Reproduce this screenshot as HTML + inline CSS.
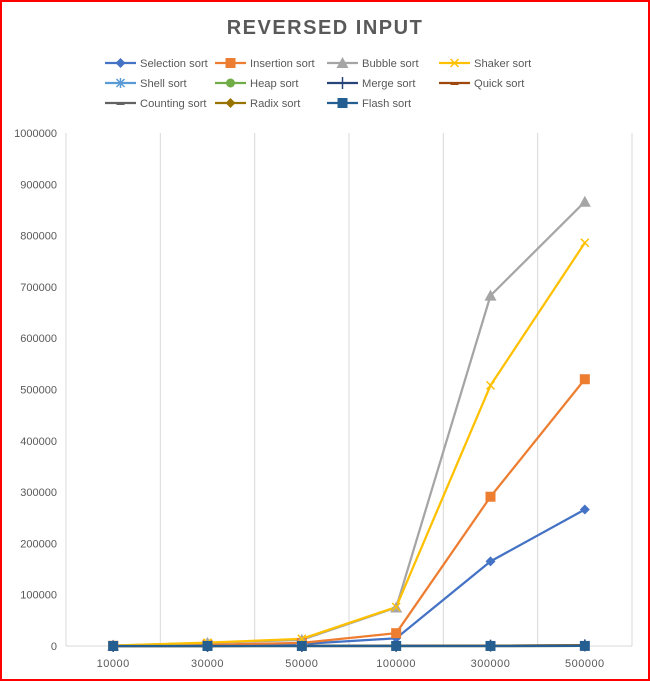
<!DOCTYPE html>
<html><head><meta charset="utf-8"><style>
body{margin:0;background:#fff;}
#wrap{position:relative;width:650px;height:681px;box-sizing:border-box;border:2px solid #f00;background:#fff;font-family:"Liberation Sans",sans-serif;}
svg text{font-family:"Liberation Sans",sans-serif;}
</style></head><body>
<div id="wrap">
<svg id="chart" width="646" height="677" style="position:absolute;left:0;top:0"></svg>
</div>
<script>
const categories=["10000","30000","50000","100000","300000","500000"];
const yTicks=[0,100000,200000,300000,400000,500000,600000,700000,800000,900000,1000000];
const selection=[300,1500,4000,15000,165000,266000];
const insertion=[400,2500,6000,25000,291000,520000];
const bubble=[800,6000,12000,75000,683000,866000];
const shaker=[800,6500,14000,76000,508000,786000];
const shell=[50,100,150,300,700,1200];
const heap=[50,100,150,300,700,1200];
const merge=[50,100,150,300,700,1200];
const quick=[50,100,150,300,700,1200];
const counting=[10,20,30,50,100,150];
const radix=[10,20,30,50,100,150];
const flash=[10,20,30,50,100,150];

const NS="http://www.w3.org/2000/svg";
const svg=document.getElementById('chart');
const OX=-2,OY=-2;
const plotLeft=66,plotRight=632,plotTop=133,plotBottom=646;
const xs=i=>plotLeft+(plotRight-plotLeft)/categories.length*(i+0.5)+OX;
const ys=v=>plotBottom-(v/1000000)*(plotBottom-plotTop)+OY;
function el(t,a){const e=document.createElementNS(NS,t);for(const k in a)e.setAttribute(k,a[k]);svg.appendChild(e);return e;}

const title=el('text',{x:323,y:32,'text-anchor':'middle','font-size':20,'font-weight':'bold',fill:'#595959','letter-spacing':'1.5'});
title.textContent='REVERSED INPUT';



for(let i=0;i<=categories.length;i++){
 const x=plotLeft+(plotRight-plotLeft)/categories.length*i+OX;
 const g=el('line',{x1:x,x2:x,y1:plotTop+OY,y2:plotBottom+OY,stroke:'#d9d9d9','stroke-width':1});
 
 
}
const ax=el('line',{x1:plotLeft+OX,x2:plotRight+OX,y1:plotBottom+OY,y2:plotBottom+OY,stroke:'#d9d9d9','stroke-width':1});



yTicks.forEach(v=>{
 const t=el('text',{x:57+OX,y:ys(v)+4,'text-anchor':'end','font-size':11,fill:'#595959'});
 t.textContent=v;
 
 
});
categories.forEach((c,i)=>{
 const t=el('text',{x:xs(i),y:667+OY,'text-anchor':'middle','font-size':11,fill:'#595959','letter-spacing':'0.5'});
 t.textContent=c;
 
 
});

function marker(type,x,y,color){
 let m;
 if(type==='diamond')m=el('path',{d:`M${x} ${y-5}L${x+5} ${y}L${x} ${y+5}L${x-5} ${y}Z`,fill:color});
 else if(type==='square')m=el('rect',{x:x-5,y:y-5,width:10,height:10,fill:color});
 else if(type==='triangle')m=el('path',{d:`M${x} ${y-6}L${x+6} ${y+5}L${x-6} ${y+5}Z`,fill:color});
 else if(type==='x')m=el('path',{d:`M${x-4} ${y-4}L${x+4} ${y+4}M${x+4} ${y-4}L${x-4} ${y+4}`,stroke:color,'stroke-width':1.5,fill:'none'});
 else if(type==='star')m=el('path',{d:`M${x-4} ${y-4}L${x+4} ${y+4}M${x+4} ${y-4}L${x-4} ${y+4}M${x} ${y-5}L${x} ${y+5}`,stroke:color,'stroke-width':1.5,fill:'none'});
 else if(type==='circle')m=el('circle',{cx:x,cy:y,r:4.5,fill:color});
 else if(type==='plus')m=el('path',{d:`M${x} ${y-6}L${x} ${y+6}`,stroke:color,'stroke-width':1.5});
 else if(type==='dash')m=el('rect',{x:x-4,y:y-1,width:8,height:3,fill:color});
 else return;
 
 
}
const series=[
 ['Selection sort',selection,'#4472c4','diamond'],
 ['Insertion sort',insertion,'#ed7d31','square'],
 ['Bubble sort',bubble,'#a5a5a5','triangle'],
 ['Shaker sort',shaker,'#ffc000','x'],
 ['Shell sort',shell,'#5b9bd5','star'],
 ['Heap sort',heap,'#70ad47','circle'],
 ['Merge sort',merge,'#264478','plus'],
 ['Quick sort',quick,'#9e480e','dash'],
 ['Counting sort',counting,'#636363','dash'],
 ['Radix sort',radix,'#997300','diamond'],
 ['Flash sort',flash,'#255e91','square']
];
const drawOrder=[4,5,6,7,8,9,0,1,2,3,10];
drawOrder.forEach(si=>{
 const s=series[si];
 const p=el('polyline',{points:s[1].map((v,i)=>xs(i)+','+ys(v)).join(' '),fill:'none',stroke:s[2],'stroke-width':2.25,'stroke-linejoin':'round'});
 
 
});
drawOrder.forEach(si=>{
 const s=series[si];
 s[1].forEach((v,i)=>marker(s[3],xs(i),ys(v),s[2]));
});
const colX=[105,215,327,439], rowY=[63,83,103];
series.forEach((s,i)=>{
 const cx=colX[i%4]+OX, cy=rowY[Math.floor(i/4)]+OY;
 const l=el('line',{x1:cx,x2:cx+31,y1:cy,y2:cy,stroke:s[2],'stroke-width':2.25});
 
 
 marker(s[3],cx+15.5,cy,s[2]);
 const t=el('text',{x:cx+35,y:cy+4,'font-size':11.2,fill:'#595959'});
 t.textContent=s[0];
 
 
});
</script>
</body></html>
